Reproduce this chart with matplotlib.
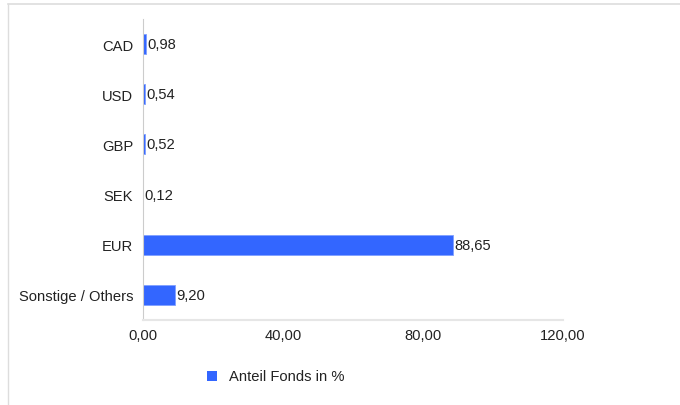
import matplotlib
matplotlib.use("Agg")
import matplotlib.pyplot as plt
from matplotlib.lines import Line2D
from matplotlib.patches import Rectangle

categories = ["CAD", "USD", "GBP", "SEK", "EUR", "Sonstige / Others"]
values = [0.98, 0.54, 0.52, 0.12, 88.65, 9.20]
xticks = [0, 40, 80, 120]
series_name = "Anteil Fonds in %"

plt.rcParams['font.family'] = ['Liberation Sans', 'DejaVu Sans']
W, H = 680, 406
fig = plt.figure(figsize=(W/100, H/100), dpi=100)
ax = fig.add_axes([143/W, 1-321/H, (563-143)/W, (321-20)/H])

fs = 10.6
color = "#3366ff"
ypos = list(range(len(categories)))
ax.barh(ypos, values, height=0.4, color=color, edgecolor="#7fa0ff", linewidth=0.6)
ax.set_ylim(len(categories)-0.5, -0.5)
ax.set_xlim(0, 120)
ax.set_yticks(ypos)
ax.set_yticklabels(categories, fontsize=fs, color="#222222")
ax.set_xticks(xticks)
ax.set_xticklabels([f"{t:.2f}".replace(".", ",") for t in xticks], fontsize=fs, color="#222222")
ax.tick_params(axis='x', length=0, pad=6)
ax.tick_params(axis='y', length=0, pad=7)
for s in ["top", "right"]:
    ax.spines[s].set_visible(False)
ax.spines["left"].set_color("#cccccc")
ax.spines["bottom"].set_color("#e6e6e6")
ax.spines["bottom"].set_linewidth(1.5)

for y, v in zip(ypos, values):
    ax.text(v + 0.4, y, f"{v:.2f}".replace(".", ","), va="center", ha="left",
            fontsize=fs, color="#222222")

# legend
fig.add_artist(Rectangle((207/W, 1-382/H), 10/W, 10/H, transform=fig.transFigure,
                         facecolor=color, edgecolor="none"))
fig.text(229/W, 1-377/H, series_name, fontsize=fs, color="#222222", va="center", ha="left")

# frame
fig.add_artist(Line2D([8/W, 8/W], [0, 1-5/H], transform=fig.transFigure, color="#dddddd", lw=1))
fig.add_artist(Line2D([8/W, 1], [1-5/H, 1-5/H], transform=fig.transFigure, color="#dddddd", lw=1.2))

fig.savefig("out.png", dpi=100)
